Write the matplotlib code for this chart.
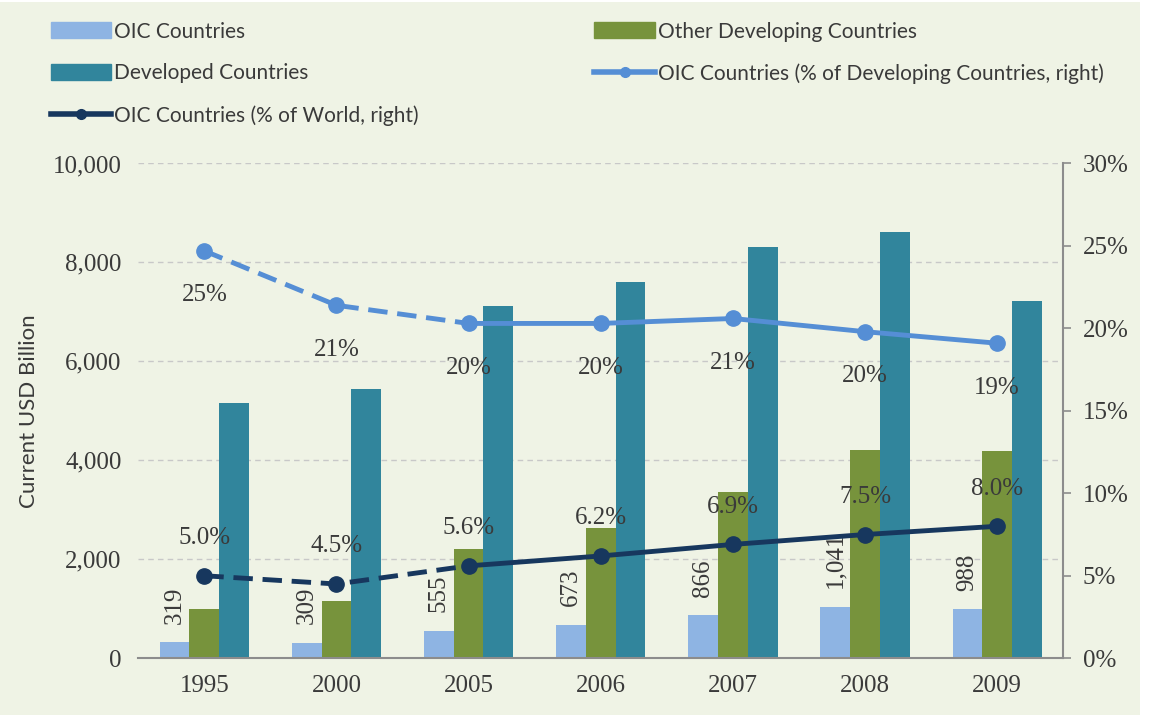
import numpy as np
import matplotlib.pyplot as plt
from matplotlib.lines import Line2D
from matplotlib.patches import Patch, Rectangle

years = ["1995", "2000", "2005", "2006", "2007", "2008", "2009"]
oic = [319, 309, 555, 673, 866, 1041, 988]
other_dev = [990, 1150, 2200, 2630, 3350, 4200, 4180]
developed = [5150, 5450, 7110, 7600, 8320, 8620, 7230]
pct_dev = [24.7, 21.4, 20.3, 20.3, 20.6, 19.8, 19.1]
pct_dev_lbl = ["25%", "21%", "20%", "20%", "21%", "20%", "19%"]
pct_world = [5.0, 4.5, 5.6, 6.2, 6.9, 7.5, 8.0]
pct_world_lbl = ["5.0%", "4.5%", "5.6%", "6.2%", "6.9%", "7.5%", "8.0%"]
oic_lbl = ["319", "309", "555", "673", "866", "1,041", "988"]

bg = "#eff3e5"
c_oic = "#8eb4e3"
c_oth = "#77933c"
c_dev = "#31859c"
c_l1 = "#558ed5"
c_l2 = "#17375e"
txt = "#3a3a3a"
serif = "Liberation Serif"
sans = ["Lato", "DejaVu Sans"]

fig = plt.figure(figsize=(11.52, 7.17), dpi=100, facecolor="white")
fig.patches.append(Rectangle((0, 0.003), 0.99, 0.994, transform=fig.transFigure,
                             facecolor=bg, edgecolor="none", zorder=-10))
ax = fig.add_axes([0.12, 0.082, 0.803, 0.69])
ax.set_facecolor(bg)
x = np.arange(len(years))
w = 0.225
ax.bar(x - w, oic, w, color=c_oic, zorder=2)
ax.bar(x, other_dev, w, color=c_oth, zorder=2)
ax.bar(x + w, developed, w, color=c_dev, zorder=2)
for i, v in enumerate(oic):
    ax.text(x[i] - w, v + 380, oic_lbl[i], rotation=90, ha="center", va="bottom",
            fontsize=18, family=serif, color=txt, zorder=5)

ax.set_xlim(-0.5, 6.5)
ax.set_ylim(0, 10000)
ax.set_yticks(range(0, 10001, 2000))
ax.set_yticklabels(["0", "2,000", "4,000", "6,000", "8,000", "10,000"])
ax.grid(axis="y", linestyle=(0, (4, 3)), color="#c8c8c8", linewidth=1, zorder=0)
ax.set_xticks(x)
ax.set_xticklabels(years)
for s in ["top", "left", "right"]:
    ax.spines[s].set_visible(False)
ax.spines["bottom"].set_color("#8c8c8c")
ax.spines["bottom"].set_linewidth(1.5)
ax.tick_params(axis="both", length=0, labelsize=18, labelcolor=txt, pad=12)
for t in ax.get_xticklabels() + ax.get_yticklabels():
    t.set_family(serif)
ax.set_ylabel("Current USD Billion", fontsize=16, family=sans, color=txt, labelpad=10)

ax2 = ax.twinx()
ax2.set_ylim(0, 30)
ax2.set_yticks(range(0, 31, 5))
ax2.set_yticklabels([f"{v}%" for v in range(0, 31, 5)])
for s in ["top", "left", "bottom"]:
    ax2.spines[s].set_visible(False)
ax2.spines["right"].set_color("#8c8c8c")
ax2.spines["right"].set_linewidth(1.5)
ax2.tick_params(axis="y", length=6, width=1.2, color="#8c8c8c", labelsize=18,
                labelcolor=txt, pad=8)
for t in ax2.get_yticklabels():
    t.set_family(serif)

# dashed for 1995-2005, solid afterwards
ax2.plot(x[:3], pct_dev[:3], color=c_l1, lw=3.5, ls=(0, (4, 2)), zorder=3)
ax2.plot(x[2:], pct_dev[2:], color=c_l1, lw=3.5, zorder=3)
ax2.plot(x, pct_dev, color=c_l1, lw=0, marker="o", ms=11, zorder=4)
ax2.plot(x[:3], pct_world[:3], color=c_l2, lw=3.5, ls=(0, (4, 2)), zorder=3)
ax2.plot(x[2:], pct_world[2:], color=c_l2, lw=3.5, zorder=3)
ax2.plot(x, pct_world, color=c_l2, lw=0, marker="o", ms=11, zorder=4)
for i in range(len(years)):
    ax2.annotate(pct_dev_lbl[i], (x[i], pct_dev[i]), xytext=(0, -32), textcoords="offset points",
                 ha="center", va="center", fontsize=18, family=serif, color=txt)
    ax2.annotate(pct_world_lbl[i], (x[i], pct_world[i]), xytext=(0, 27), textcoords="offset points",
                 ha="center", va="center", fontsize=18, family=serif, color=txt)

leg_kw = dict(frameon=False, prop={"family": sans, "size": 15}, handlelength=2.9,
              handleheight=0.8, handletextpad=0.15, labelspacing=1.05,
              labelcolor=txt, borderaxespad=0, borderpad=0)
h1 = [
    Patch(color=c_oic, label="OIC Countries"),
    Patch(color=c_dev, label="Developed Countries"),
    Line2D([], [], color=c_l2, lw=4, marker="o", ms=7, label="OIC Countries (% of World, right)"),
]
h2 = [
    Patch(color=c_oth, label="Other Developing Countries"),
    Line2D([], [], color=c_l1, lw=4, marker="o", ms=7,
           label="OIC Countries (% of Developing Countries, right)"),
]
fig.legend(handles=h1, loc="upper left", bbox_to_anchor=(0.044, 0.97), **leg_kw)
fig.legend(handles=h2, loc="upper left", bbox_to_anchor=(0.516, 0.97), **leg_kw)

fig.savefig("out.png", dpi=100, facecolor="white")
